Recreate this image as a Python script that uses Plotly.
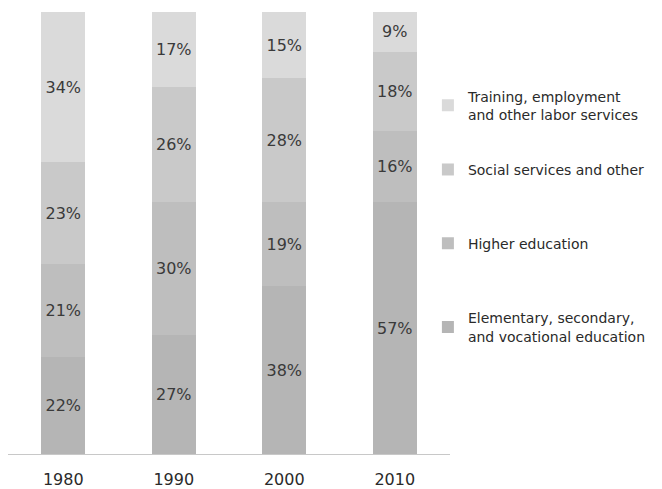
import plotly.graph_objects as go

years = ["1980", "1990", "2000", "2010"]
series_names = [
    "Elementary, secondary,<br>and vocational education",
    "Higher education",
    "Social services and other",
    "Training, employment<br>and other labor services",
]
elementary = [22, 27, 38, 57]
higher = [21, 30, 19, 16]
social = [23, 26, 28, 18]
training = [34, 17, 15, 9]

values = [elementary, higher, social, training]
colors = ["#b5b5b5", "#bebebe", "#c9c9c9", "#dadada"]
legend_ids = ["legend4", "legend3", "legend2", "legend"]
legend_y = [0.343, 0.512, 0.679, 0.845]

FONT = "DejaVu Sans"
fig = go.Figure()
for name, vals, col, lg in zip(series_names, values, colors, legend_ids):
    fig.add_trace(go.Bar(
        x=years, y=vals, name=name, marker=dict(color=col, line=dict(width=0)),
        text=[f"{v}%" for v in vals], textposition="inside",
        insidetextanchor="middle", textangle=0,
        textfont=dict(family=FONT, size=16, color="#3a3a3a"),
        legend=lg,
    ))

leg_common = dict(xanchor="left", yanchor="top", x=0.95, bgcolor="rgba(0,0,0,0)",
                  font=dict(family=FONT, size=14, color="#2a2a2a"), itemwidth=30)
layout_legends = {}
for lg, yy in zip(legend_ids, legend_y):
    layout_legends[lg] = dict(leg_common, y=yy)

fig.update_layout(
    width=654, height=481,
    margin=dict(l=0, r=212, t=4, b=32),
    barmode="stack", bargap=0.6,
    paper_bgcolor="white", plot_bgcolor="white",
    showlegend=True,
    xaxis=dict(type="category", range=[-0.5, 3.5], showline=True, linecolor="#c8c8c8",
               linewidth=1, ticks="", ticklabelstandoff=11,
               tickfont=dict(family=FONT, size=16, color="#2a2a2a"), showgrid=False),
    yaxis=dict(range=[0, 100], visible=False, showgrid=False),
    uniformtext=dict(mode=False),
    **layout_legends,
)
fig.write_html("out.html")
